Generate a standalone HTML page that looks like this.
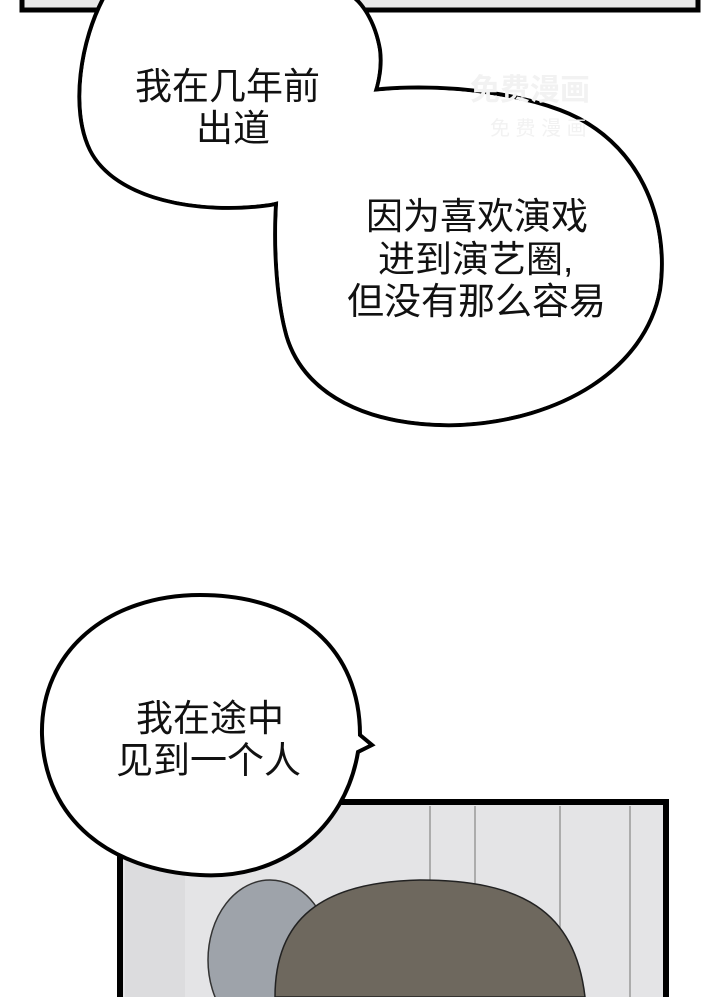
<!DOCTYPE html>
<html><head><meta charset="utf-8"><style>
html,body{margin:0;padding:0;background:#fff;}
svg{display:block}
text{font-family:"Liberation Sans","Noto Sans CJK SC",sans-serif;font-size:37px;fill:#111;}
</style></head><body>
<svg width="720" height="997" viewBox="0 0 720 997" xmlns="http://www.w3.org/2000/svg">
<rect width="720" height="997" fill="#fff"/>
<rect x="22" y="-10" width="676" height="20" fill="#e8e8e8" stroke="#000" stroke-width="5"/>
<rect x="120" y="802" width="546" height="200" fill="#e4e4e6" stroke="#000" stroke-width="6"/>
<rect x="125" y="807" width="60" height="190" fill="#dcdcde"/>
<line x1="430" y1="806" x2="430" y2="997" stroke="#999" stroke-width="1.5"/>
<line x1="475" y1="806" x2="475" y2="997" stroke="#999" stroke-width="1.5"/>
<line x1="560" y1="806" x2="560" y2="997" stroke="#999" stroke-width="1.5"/>
<line x1="630" y1="806" x2="630" y2="997" stroke="#999" stroke-width="1.5"/>
<ellipse cx="270" cy="960" rx="62" ry="80" fill="#9ea3aa" stroke="#333" stroke-width="1.5"/>
<path d="M275 997 C275 920 320 882 420 880 C520 880 575 910 585 997 Z" fill="#6e685e" stroke="#222" stroke-width="1.5"/>
<g stroke="#000" stroke-width="4" fill="#fff">
<path d="M105 -5 C80 40 70 110 90 150 C115 200 200 215 270 205 C300 200 320 180 340 160 C360 130 385 90 380 50 C375 20 360 0 350 -5 Z"/>
<path d="M300 110 C350 80 480 80 560 110 C640 140 670 220 660 290 C645 370 560 420 460 425 C370 428 300 395 285 330 C270 270 270 150 300 110 Z"/>
<path d="M200 595 C300 595 360 650 360 735 L372 745 L358 752 C345 830 280 880 200 875 C110 870 45 820 42 735 C40 650 110 595 200 595 Z"/>
</g>
<g fill="#fff">
<path d="M107 -3 C82 40 72 110 92 150 C117 198 200 213 270 203 C300 198 320 178 338 158 C358 130 383 90 378 50 C373 20 358 0 348 -3 Z"/>
<path d="M302 112 C352 82 480 82 558 112 C638 142 668 220 658 290 C643 368 560 418 460 423 C372 426 302 393 287 330 C272 270 272 150 302 112 Z"/>
</g>
<text x="135" y="99">我在几年前</text>
<text x="196" y="141">出道</text>
<text x="366" y="229">因为喜欢演戏</text>
<text x="378" y="272">进到演艺圈,</text>
<text x="347" y="314">但没有那么容易</text>
<text x="136" y="731">我在途中</text>
<text x="116" y="773">见到一个人</text>
<text x="470" y="100" style="font-size:30px;fill:#f2f2f2;font-weight:bold">免费漫画</text>
<text x="490" y="135" style="font-size:20px;fill:#f2f2f2">免 费 漫 画</text>
</svg>
</body></html>
